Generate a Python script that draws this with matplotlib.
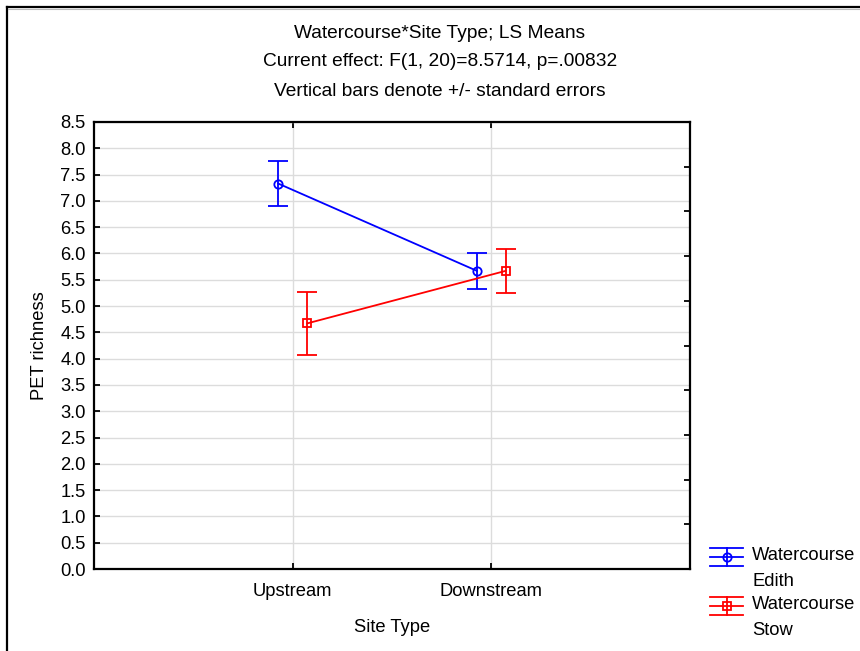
import numpy as np
import matplotlib
matplotlib.use("Agg")
import matplotlib.pyplot as plt
from matplotlib.lines import Line2D

plt.rcParams['font.family'] = ['Liberation Sans', 'DejaVu Sans']

# ---- data ----
site_types = ["Upstream", "Downstream"]
series_names = ["Watercourse\nEdith", "Watercourse\nStow"]
edith_means = [7.33, 5.67]
edith_se = [0.42, 0.34]
stow_means = [4.67, 5.67]
stow_se = [0.60, 0.42]
y_ticks = [0.0, 0.5, 1.0, 1.5, 2.0, 2.5, 3.0, 3.5, 4.0, 4.5, 5.0, 5.5, 6.0, 6.5, 7.0, 7.5, 8.0, 8.5]
title_lines = ["Watercourse*Site Type; LS Means",
               "Current effect: F(1, 20)=8.5714, p=.00832",
               "Vertical bars denote +/- standard errors"]

W, H = 860, 651
fig = plt.figure(figsize=(W / 100, H / 100), dpi=100)
ax = fig.add_axes([94 / W, 1 - 569 / H, (690 - 94) / W, (569 - 122) / H])

fs = 13.2
fs_title = 13.8
x = np.arange(1, len(site_types) + 1)
offsets = [-0.073, 0.073]
colors = ["#0000ff", "#ff0000"]
markers = ["o", "s"]
series = [(edith_means, edith_se), (stow_means, stow_se)]
for (m, s), off, c, mk in zip(series, offsets, colors, markers):
    ax.errorbar(x + off, m, yerr=s, color=c, marker=mk, mfc='none', mec=c,
                ms=6, mew=1.3, lw=1.3, elinewidth=1.3, capsize=7.5, capthick=1.3,
                zorder=3)

ax.set_xlim(0, 3)
ax.set_ylim(0, 8.5)
ax.set_xticks(x)
ax.set_xticklabels(site_types, fontsize=fs)
ax.set_yticks(y_ticks)
ax.set_yticklabels([f"{v:.1f}" for v in y_ticks], fontsize=fs)
ax.tick_params(axis='both', direction='in', length=4, width=1.3, top=True, right=False)
ax.tick_params(axis='x', pad=10)
ax.tick_params(axis='y', pad=6)
ax.grid(True, color='#dcdcdc', lw=1.0, zorder=0)
ax.set_axisbelow(True)
for sp in ax.spines.values():
    sp.set_linewidth(1.6)
ax.set_xlabel("Site Type", fontsize=fs, labelpad=14)
ax.set_ylabel("PET richness", fontsize=fs, labelpad=9)

# right-side unlabeled ticks (10 equal divisions)
ax2 = ax.twinx()
ax2.set_ylim(0, 1)
ax2.set_yticks(np.arange(1, 10) / 10)
ax2.set_yticklabels([])
ax2.tick_params(axis='y', direction='in', length=4, width=1.3)
for sp in ax2.spines.values():
    sp.set_visible(False)

# titles
for i, t in enumerate(title_lines):
    fig.text(440 / W, 1 - (33 + 29 * i) / H, t, ha='center', va='center', fontsize=fs_title)

# outer frame
fig.add_artist(Line2D([7 / W, 1.0], [1 - 7 / H, 1 - 7 / H], transform=fig.transFigure,
                      color='black', lw=1.6))
fig.add_artist(Line2D([7 / W, 7 / W], [0.0, 1 - 7 / H], transform=fig.transFigure,
                      color='black', lw=1.6))
fig.add_artist(Line2D([8 / W, 1.0], [1 - 9 / H, 1 - 9 / H], transform=fig.transFigure,
                      color='#bbbbbb', lw=0.8))

# manual legend
for i, (name, c, mk) in enumerate(zip(series_names, colors, markers)):
    cy = 557 + 49 * i
    x0, x1, xm = 710, 743, 726.5
    d = 9
    for yy in (cy - d, cy, cy + d):
        fig.add_artist(Line2D([x0 / W, x1 / W], [1 - yy / H, 1 - yy / H],
                              transform=fig.transFigure, color=c, lw=1.3))
    fig.add_artist(Line2D([xm / W, xm / W], [1 - (cy - d) / H, 1 - (cy + d) / H],
                          transform=fig.transFigure, color=c, lw=1.3))
    fig.add_artist(Line2D([xm / W], [1 - cy / H], transform=fig.transFigure,
                          color=c, marker=mk, mfc='none', ms=6, mew=1.3, lw=0))
    fig.text(752 / W, 1 - (cy - 10) / H, name, ha='left', va='top', fontsize=fs,
             linespacing=1.68)

fig.savefig("out.png", dpi=100)
